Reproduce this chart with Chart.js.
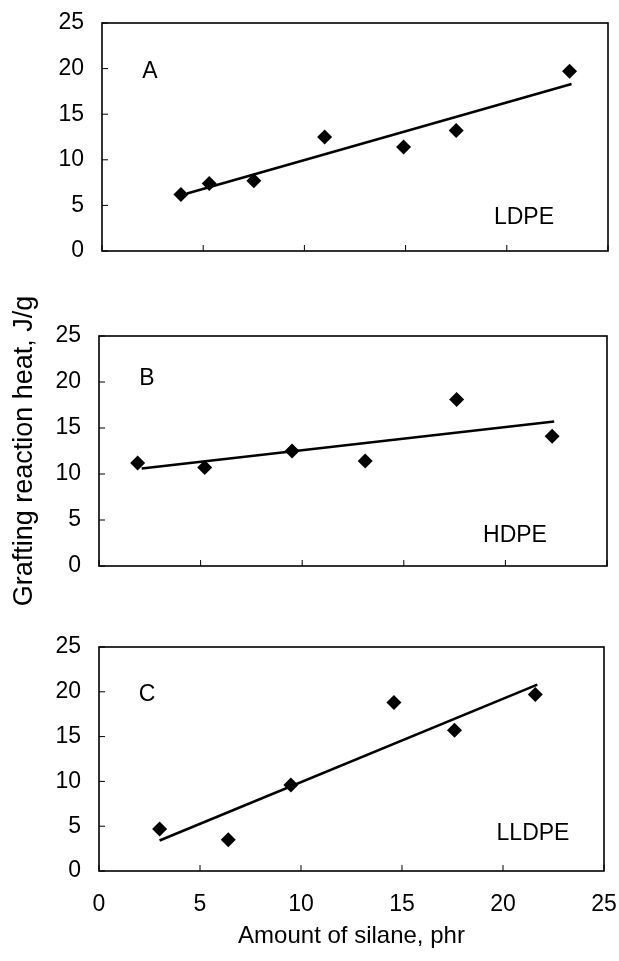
<!DOCTYPE html>
<html lang="en">
<head>
<meta charset="UTF-8">
<title>Grafting reaction heat vs amount of silane</title>
<style>
  body { margin: 0; background: #fff; }
  .panel { position: absolute; left: 0; width: 619px; }
</style>
</head>
<body>
<div class="panel" style="top:0px"><canvas id="chartA" width="619" height="270"></canvas></div>
<div class="panel" style="top:610px"><canvas id="chartC" width="619" height="351"></canvas></div>
<div class="panel" style="top:270px"><canvas id="chartB" width="619" height="340"></canvas></div>

<script src="https://cdn.jsdelivr.net/npm/chart.js"></script>
<script>
// tick labels
const xTicks = [0, 5, 10, 15, 20, 25];
const yTicks = [0, 5, 10, 15, 20, 25];

// A - LDPE
const ldpeSilane = [3.9, 5.3, 7.5, 11.0, 14.9, 17.5, 23.1];
const ldpeHeat = [6.2, 7.4, 7.7, 12.5, 11.4, 13.2, 19.7];
const ldpeFitSilane = [4.2, 23.2];
const ldpeFitHeat = [6.3, 18.3];

// B - HDPE
const hdpeSilane = [1.9, 5.2, 9.5, 13.1, 17.6, 22.3];
const hdpeHeat = [11.2, 10.7, 12.5, 11.4, 18.1, 14.1];
const hdpeFitSilane = [2.1, 22.4];
const hdpeFitHeat = [10.6, 15.7];

// C - LLDPE
const lldpeSilane = [3.0, 6.4, 9.5, 14.6, 17.6, 21.6];
const lldpeHeat = [4.7, 3.5, 9.6, 18.8, 15.7, 19.7];
const lldpeFitSilane = [3.0, 21.7];
const lldpeFitHeat = [3.4, 20.8];

const FONT = '"Liberation Sans", Arial, sans-serif';

// box round the plot area, inward tick marks and the panel texts
const frame = {
    id: 'frame',
    afterDatasetsDraw(chart, args, opts) {
        const { ctx, chartArea: a, scales: { x, y } } = chart;
        ctx.save();
        ctx.strokeStyle = '#000';
        ctx.lineWidth = 1.6;
        ctx.strokeRect(a.left, a.top, a.right - a.left, a.bottom - a.top);
        ctx.beginPath();
        x.ticks.forEach(t => {
            const px = x.getPixelForValue(t.value);
            ctx.moveTo(px, a.bottom);
            ctx.lineTo(px, a.bottom - 6);
        });
        y.ticks.forEach(t => {
            const py = y.getPixelForValue(t.value);
            ctx.moveTo(a.left, py);
            ctx.lineTo(a.left + 6, py);
        });
        ctx.lineWidth = 1;
        ctx.stroke();
        ctx.fillStyle = '#000';
        ctx.font = '23px ' + FONT;
        ctx.textAlign = 'center';
        ctx.textBaseline = 'middle';
        ctx.fillText(opts.letter, a.left + 48, a.top + opts.letterDown);
        ctx.fillText(opts.name, a.right - opts.nameLeft, a.bottom - opts.nameUp);
        ctx.restore();
    }
};

function makeChart(id, silane, heat, fitSilane, fitHeat, text, box) {
    const ctx = document.getElementById(id).getContext('2d');
    return new Chart(ctx, {
        type: 'scatter',
        data: {
            datasets: [
                {
                    data: silane.map((v, i) => ({ x: v, y: heat[i] })),
                    pointStyle: 'rectRot',
                    pointRadius: 7.5,
                    backgroundColor: '#000',
                    borderColor: '#000',
                    borderWidth: 0
                },
                {
                    data: fitSilane.map((v, i) => ({ x: v, y: fitHeat[i] })),
                    showLine: true,
                    borderColor: '#000',
                    borderWidth: 2.6,
                    pointRadius: 0,
                    fill: false
                }
            ]
        },
        options: {
            responsive: false,
            animation: false,
            events: [],
            layout: { padding: { top: box.top, right: box.right, left: 0, bottom: 0 } },
            plugins: {
                legend: { display: false },
                tooltip: { enabled: false },
                frame: text
            },
            scales: {
                x: {
                    type: 'linear',
                    min: 0,
                    max: 25,
                    afterBuildTicks: s => { s.ticks = xTicks.map(v => ({ value: v })); },
                    grid: { display: false, drawTicks: false },
                    border: { display: false },
                    ticks: { display: box.xLabels, padding: 20, color: '#000', font: { family: FONT, size: 23 } },
                    title: {
                        display: box.xLabels,
                        text: 'Amount of silane, phr',
                        color: '#000',
                        font: { family: FONT, size: 24 },
                        padding: { top: 0, bottom: 10 }
                    },
                    afterFit: s => { s.height = box.xHeight; s.paddingLeft = 0; s.paddingRight = 0; }
                },
                y: {
                    type: 'linear',
                    min: 0,
                    max: 25,
                    afterBuildTicks: s => { s.ticks = yTicks.map(v => ({ value: v })); },
                    grid: { display: false, drawTicks: false },
                    border: { display: false },
                    ticks: { padding: 18, color: '#000', font: { family: FONT, size: 23 } },
                    title: {
                        display: box.yTitle,
                        text: 'Grafting reaction heat, J/g',
                        color: '#000',
                        font: { family: FONT, size: 27 },
                        padding: { top: 8, bottom: 0 }
                    },
                    afterFit: s => { s.width = box.left; s.paddingTop = 0; s.paddingBottom = 0; }
                }
            }
        },
        plugins: [frame]
    });
}

makeChart('chartA', ldpeSilane, ldpeHeat, ldpeFitSilane, ldpeFitHeat,
    { letter: 'A', name: 'LDPE', letterDown: 49, nameLeft: 84, nameUp: 33 },
    { top: 23, right: 11, left: 102, xHeight: 19, xLabels: false, yTitle: false });

makeChart('chartC', lldpeSilane, lldpeHeat, lldpeFitSilane, lldpeFitHeat,
    { letter: 'C', name: 'LLDPE', letterDown: 48, nameLeft: 71, nameUp: 37 },
    { top: 37, right: 15, left: 99, xHeight: 90, xLabels: true, yTitle: false });

makeChart('chartB', hdpeSilane, hdpeHeat, hdpeFitSilane, hdpeFitHeat,
    { letter: 'B', name: 'HDPE', letterDown: 43, nameLeft: 92, nameUp: 30 },
    { top: 66, right: 12, left: 99, xHeight: 44, xLabels: false, yTitle: true });
</script>
</body>
</html>
